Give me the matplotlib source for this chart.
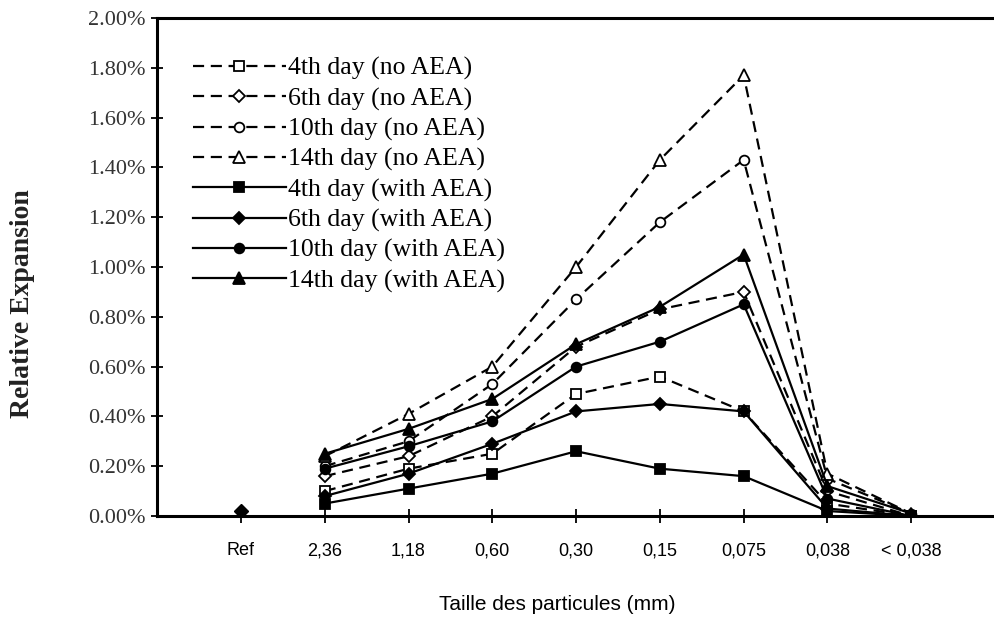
import numpy as np
import matplotlib
matplotlib.use("Agg")
import matplotlib.pyplot as plt
from matplotlib.ticker import FuncFormatter

# particle size classes (x axis)
sizes = ["Ref", "2,36", "1,18", "0,60", "0,30", "0,15", "0,075", "0,038", "< 0,038"]

# relative expansion (%) for each grading class, 2,36 ... < 0,038
ref_value = 0.02
no_aea_4 = [0.10, 0.19, 0.25, 0.49, 0.56, 0.42, 0.05, 0.00]
no_aea_6 = [0.16, 0.24, 0.40, 0.68, 0.83, 0.90, 0.10, 0.00]
no_aea_10 = [0.20, 0.30, 0.53, 0.87, 1.18, 1.43, 0.15, 0.01]
no_aea_14 = [0.24, 0.41, 0.60, 1.00, 1.43, 1.77, 0.17, 0.01]
aea_4 = [0.05, 0.11, 0.17, 0.26, 0.19, 0.16, 0.02, 0.00]
aea_6 = [0.08, 0.17, 0.29, 0.42, 0.45, 0.42, 0.03, 0.00]
aea_10 = [0.19, 0.28, 0.38, 0.60, 0.70, 0.85, 0.07, 0.00]
aea_14 = [0.25, 0.35, 0.47, 0.69, 0.84, 1.05, 0.12, 0.01]

labels = ["4th day (no AEA)", "6th day (no AEA)", "10th day (no AEA)", "14th day (no AEA)",
          "4th day (with AEA)", "6th day (with AEA)", "10th day (with AEA)", "14th day (with AEA)"]
series = [no_aea_4, no_aea_6, no_aea_10, no_aea_14, aea_4, aea_6, aea_10, aea_14]
markers = ["s", "D", "o", "^", "s", "D", "o", "^"]
msizes = [7, 6, 7, 8, 7, 6, 7, 8]

fig = plt.figure(figsize=(9.95, 6.35), dpi=100)
ax = fig.add_axes([0.158, 0.1874, 0.842, 0.7843])

x = np.arange(1, len(sizes))
for i, vals in enumerate(series):
    dashed = i < 4
    ax.plot(x, vals, color="black", lw=1.6,
            linestyle=(0, (5, 3)) if dashed else "-",
            marker=markers[i], markersize=msizes[i],
            markerfacecolor="white" if dashed else "black",
            markeredgecolor="black", markeredgewidth=1.3,
            label=labels[i], zorder=3)

# reference point, no line
ax.plot([0], [ref_value], marker="D", color="black", markersize=7, lw=0, zorder=3)

ax.set_xlim(-1, 9)
ax.set_ylim(0, 2.0)
ax.set_yticks(np.arange(0, 2.01, 0.2))
ax.yaxis.set_major_formatter(FuncFormatter(lambda v, p: "%.2f%%" % v))
ax.set_xticks(range(len(sizes)))
ax.set_xticklabels(sizes)

for s in ["left", "bottom", "top"]:
    ax.spines[s].set_linewidth(2.2)
ax.spines["right"].set_visible(False)

ax.tick_params(axis="y", direction="inout", length=9, width=1.3, pad=4,
               labelsize=16)
ax.tick_params(axis="x", direction="inout", length=10, width=1.3, pad=14,
               labelsize=13)
for t in ax.get_yticklabels():
    t.set_fontfamily("Liberation Serif")
    t.set_color("#333333")
for t in ax.get_xticklabels():
    t.set_fontfamily("Liberation Sans")

ax.set_ylabel("Relative Expansion", fontfamily="Liberation Serif", fontweight="bold",
              fontsize=20, color="#222222")
ax.yaxis.set_label_coords(-0.1456, 0.426)
ax.set_xlabel("Taille des particules (mm)", fontfamily="Liberation Sans", fontsize=15)
ax.xaxis.set_label_coords(0.477, -0.158)

leg = ax.legend(loc="upper left", bbox_to_anchor=(0.043, 0.922), frameon=False,
                prop={"family": "Liberation Serif", "size": 18.5},
                handlelength=3.6, handletextpad=0.1, labelspacing=0.27,
                borderpad=0, borderaxespad=0)

fig.savefig("out.png", dpi=100)
